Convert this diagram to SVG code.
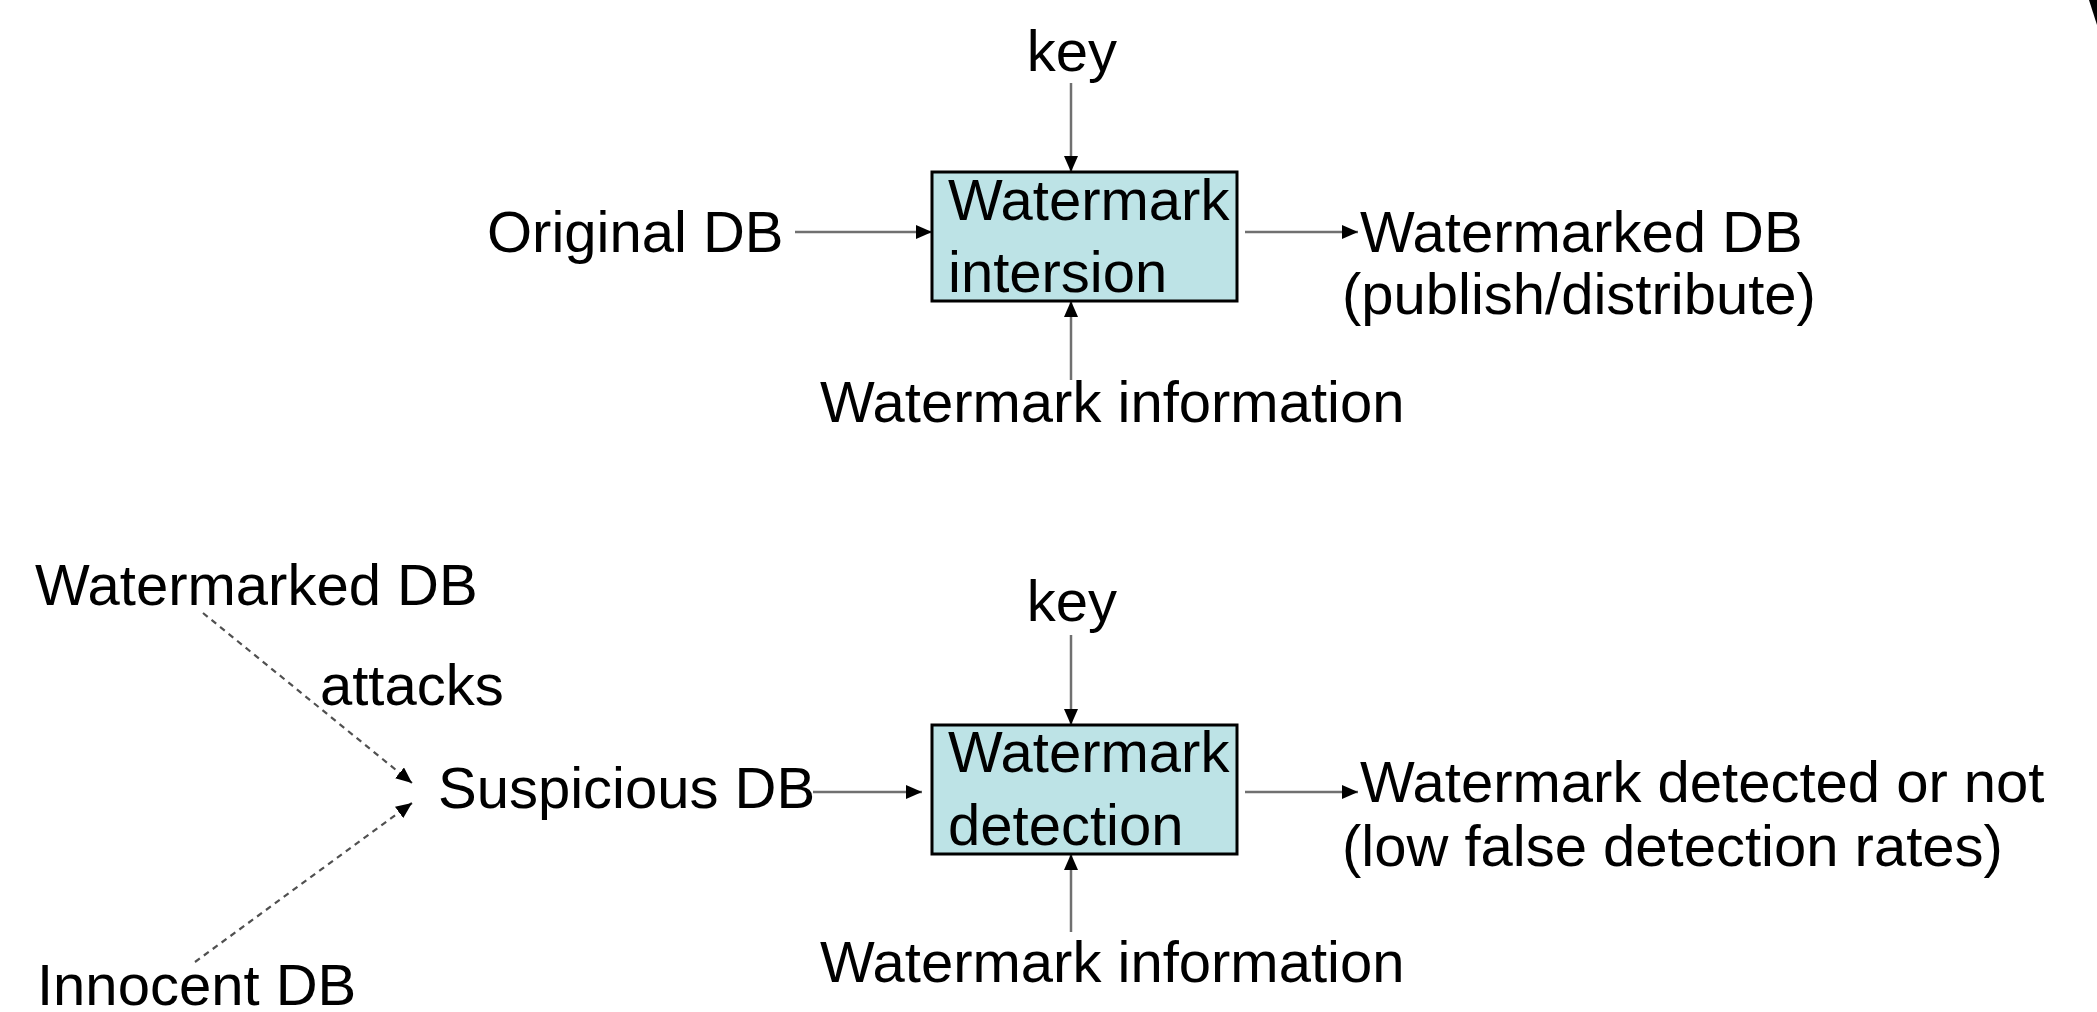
<svg xmlns="http://www.w3.org/2000/svg" width="2097" height="1012" viewBox="0 0 2097 1012">
<style>
text { font-family: "Liberation Sans", Arial, sans-serif; font-size: 58px; fill: #000; }
.box { fill: #BDE3E6; stroke: #000; stroke-width: 3; }
.ln { stroke: #707070; stroke-width: 2.5; fill: none; marker-end: url(#ah); }
.dash { stroke: #505050; stroke-width: 2.2; fill: none; stroke-dasharray: 6 5; marker-end: url(#ah); }
</style>
<defs>
<marker id="ah" markerUnits="userSpaceOnUse" markerWidth="16" markerHeight="14" viewBox="0 0 16 14" refX="16" refY="7" orient="auto">
<path d="M0,0 L16,7 L0,14 Z" fill="#000"/>
</marker>
</defs>
<rect width="2097" height="1012" fill="#fff"/>
<path d="M2089,0 L2097,0 L2097,25 Z" fill="#000"/>

<g id="connectors">
<line class="ln" x1="1071" y1="83" x2="1071" y2="172"/>
<line class="ln" x1="1071" y1="380" x2="1071" y2="301"/>
<line class="ln" x1="795" y1="232" x2="932" y2="232"/>
<line class="ln" x1="1245" y1="232" x2="1358" y2="232"/>
<line class="ln" x1="1071" y1="635" x2="1071" y2="725"/>
<line class="ln" x1="1071" y1="932" x2="1071" y2="854"/>
<line class="ln" x1="813" y1="792" x2="922" y2="792"/>
<line class="ln" x1="1245" y1="792" x2="1358" y2="792"/>
<line class="dash" x1="203" y1="613" x2="412" y2="783"/>
<line class="dash" x1="195" y1="962" x2="412" y2="803"/>
</g>

<g id="insertion">
<rect class="box" x="932" y="172" width="305" height="129"/>
<text x="948" y="220">Watermark</text>
<text x="948" y="292">intersion</text>
</g>
<g id="key1"><text x="1072" y="71" text-anchor="middle">key</text></g>
<g id="original-db"><text x="487" y="252">Original DB</text></g>
<g id="watermarked-out"><text x="1360" y="252">Watermarked DB</text><text x="1342" y="314">(publish/distribute)</text></g>
<g id="wm-info1"><text x="820" y="422">Watermark information</text></g>

<g id="detection">
<rect class="box" x="932" y="725" width="305" height="129"/>
<text x="948" y="772">Watermark</text>
<text x="948" y="845">detection</text>
</g>
<g id="key2"><text x="1072" y="621" text-anchor="middle">key</text></g>
<g id="watermarked-db"><text x="35" y="605">Watermarked DB</text></g>
<g id="attacks"><text x="320" y="705">attacks</text></g>
<g id="suspicious-db"><text x="438" y="808">Suspicious DB</text></g>
<g id="innocent-db"><text x="37" y="1005">Innocent DB</text></g>
<g id="result"><text x="1360" y="802">Watermark detected or not</text><text x="1342" y="866">(low false detection rates)</text></g>
<g id="wm-info2"><text x="820" y="982">Watermark information</text></g>
</svg>
